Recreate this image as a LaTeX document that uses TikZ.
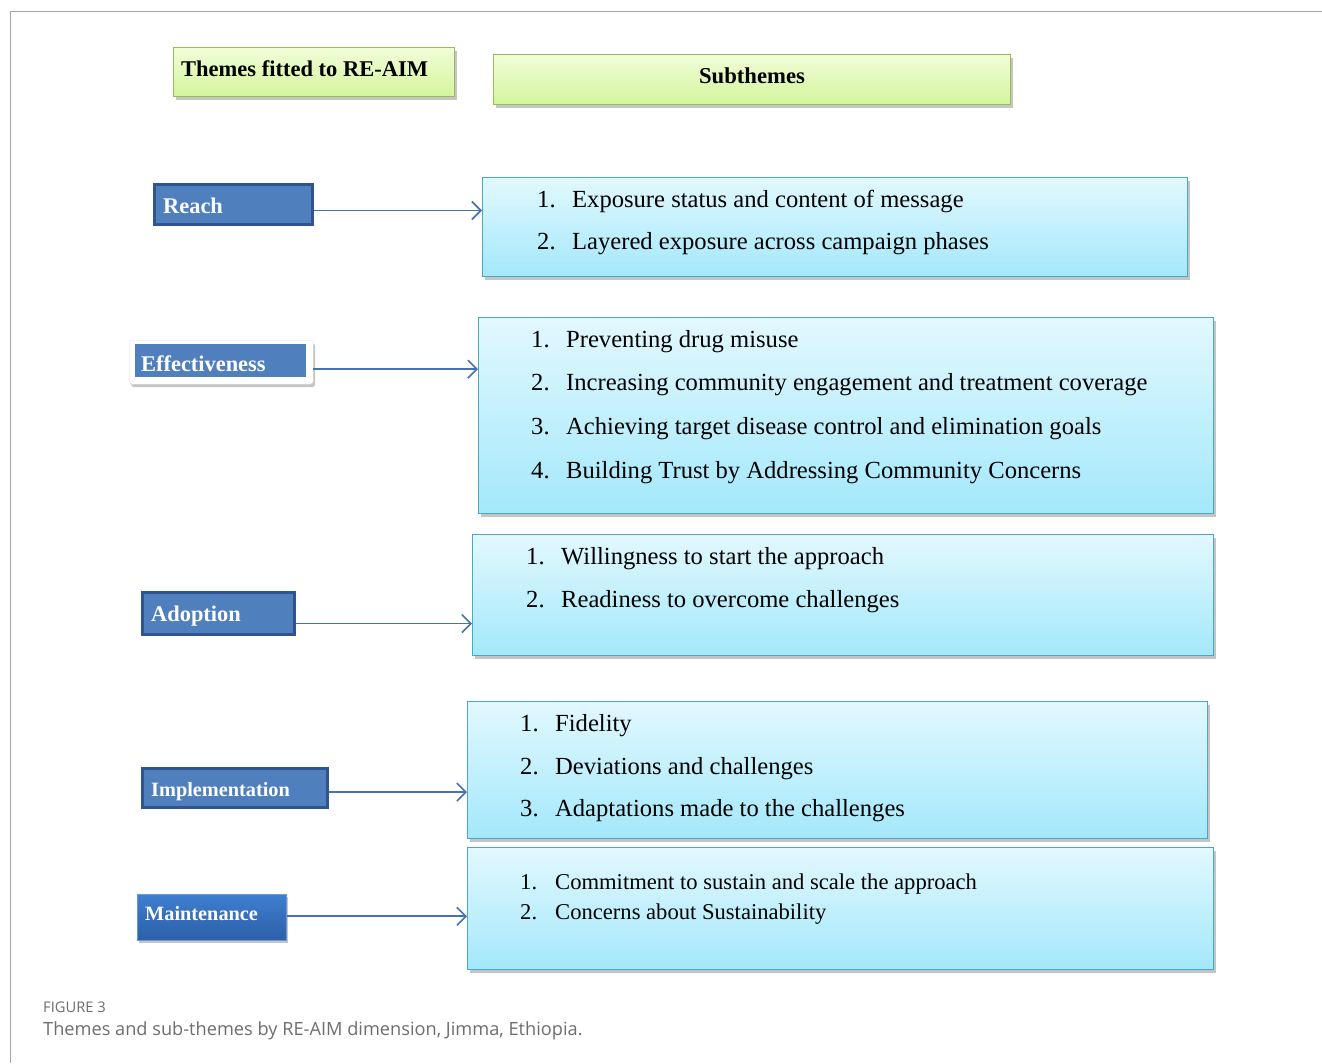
\documentclass[tikz,border=0pt]{standalone}
\usepackage{fontspec}
\setmainfont{Liberation Serif}
\newfontfamily\capfont{Open Sans}
\usetikzlibrary{shadows,calc,arrows.meta}
\definecolor{cyanTop}{HTML}{E2F8FE}
\definecolor{cyanBot}{HTML}{A3E8FB}
\definecolor{cyanLine}{HTML}{4AA8C4}
\definecolor{greenTop}{HTML}{F1FDD8}
\definecolor{greenBot}{HTML}{D3F59A}
\definecolor{greenLine}{HTML}{9BBB59}
\definecolor{blueFill}{HTML}{4F7FBD}
\definecolor{blueLine}{HTML}{2E5590}
\definecolor{mainTop}{HTML}{3E7FD0}
\definecolor{mainBot}{HTML}{2C5FA8}
\definecolor{arrowBlue}{HTML}{4472B4}
\definecolor{capGray}{HTML}{6E6E6E}
\tikzset{
  shad/.style={drop shadow={shadow xshift=2pt,shadow yshift=-3pt,opacity=0.45,fill=gray}},
  subbox/.style={shad,draw=cyanLine,line width=1.4pt,top color=cyanTop,bottom color=cyanBot,anchor=north west,inner sep=0pt},
  headbox/.style={shad,draw=greenLine,line width=1.4pt,top color=greenTop,bottom color=greenBot,anchor=north west,inner sep=0pt},
  themebox/.style={draw=blueLine,line width=3pt,fill=blueFill,anchor=north west,inner sep=0pt},
  themetxt/.style={anchor=base west,text=white,font=\fontsize{22.4}{26}\selectfont\bfseries,inner sep=0pt},
  item/.style={anchor=base west,inner sep=0pt,font=\fontsize{24.6}{28}\selectfont},
  itemsm/.style={anchor=base west,inner sep=0pt,font=\fontsize{22.6}{26}\selectfont},
  arr/.style={draw=arrowBlue,line width=1.8pt,-{Straight Barb[length=9pt,width=18pt,line width=1.6pt]}},
  frameline/.style={draw=gray!70,line width=1pt}
}
\newcommand{\num}[1]{\makebox[35pt][l]{#1}}
\begin{document}
\begin{tikzpicture}[x=1pt,y=-1pt]
\useasboundingbox[fill=white] (0,0) rectangle (1322,1063);
\draw[frameline] (1322,11) -- (10,11) -- (10,1063);
% header boxes
\node[headbox,minimum width=281,minimum height=49] (h1) at (173,47) {};
\node[anchor=base west,inner sep=0pt,font=\fontsize{22.5}{26}\selectfont\bfseries] (h1t) at (181,76) {Themes fitted to RE-AIM};
\node[headbox,minimum width=517,minimum height=50] (h2) at (493,54) {};
\node[anchor=base,inner sep=0pt,font=\fontsize{22.7}{26}\selectfont\bfseries] (h2t) at (752,83) {Subthemes};
% theme boxes
\node[themebox,minimum width=158,minimum height=40] (reach) at (153,183) {};
\node[themetxt] (reacht) at (163,213) {Reach};
\node[shad,draw=gray!25,fill=white,rounded corners=3pt,minimum width=184,minimum height=44,anchor=north west,inner sep=0pt] (eff) at (129,340) {};
\node[fill=blueFill,minimum width=171,minimum height=33,anchor=north west,inner sep=0pt] (effin) at (135,344) {};
\node[themetxt] (efft) at (141,371) {Effectiveness};
\node[themebox,minimum width=152,minimum height=42] (adop) at (141,591) {};
\node[themetxt] (adopt) at (151,621) {Adoption};
\node[themebox,minimum width=185,minimum height=39] (impl) at (141,767) {};
\node[themetxt,font=\fontsize{20.3}{24}\selectfont\bfseries] (implt) at (151,796) {Implementation};
\node[shad,draw=mainTop!80,line width=0.6pt,top color=mainTop,bottom color=mainBot,minimum width=149,minimum height=46,anchor=north west,inner sep=0pt] (main) at (137,894) {};
\node[themetxt,font=\fontsize{20.3}{24}\selectfont\bfseries] (maint) at (145,920) {Maintenance};
% subtheme boxes
\node[subbox,minimum width=705,minimum height=99] (s1) at (482,177) {};
\node[item] (s1a) at (537,207) {\num{1.}Exposure status and content of message};
\node[item] (s1b) at (537,249) {\num{2.}Layered exposure across campaign phases};
\node[subbox,minimum width=735,minimum height=196] (s2) at (478,317) {};
\node[item] (s2a) at (531,347) {\num{1.}Preventing drug misuse};
\node[item] (s2b) at (531,390) {\num{2.}Increasing community engagement and treatment coverage};
\node[item] (s2c) at (531,434) {\num{3.}Achieving target disease control and elimination goals};
\node[item] (s2d) at (531,478) {\num{4.}Building Trust by Addressing Community Concerns};
\node[subbox,minimum width=741,minimum height=121] (s3) at (472,534) {};
\node[item] (s3a) at (526,564) {\num{1.}Willingness to start the approach};
\node[item] (s3b) at (526,607) {\num{2.}Readiness to overcome challenges};
\node[subbox,minimum width=740,minimum height=137] (s4) at (467,701) {};
\node[item] (s4a) at (520,731) {\num{1.}Fidelity};
\node[item] (s4b) at (520,774) {\num{2.}Deviations and challenges};
\node[item] (s4c) at (520,816) {\num{3.}Adaptations made to the challenges};
\node[subbox,minimum width=746,minimum height=122] (s5) at (467,847) {};
\node[itemsm] (s5a) at (520,889) {\num{1.}Commitment to sustain and scale the approach};
\node[itemsm] (s5b) at (520,919) {\num{2.}Concerns about Sustainability};
% arrows
\coordinate (ra) at ($(reach.east)+(0,6)$);
\draw[arr] (ra) -- (ra -| s1.west);
\coordinate (ea) at ($(eff.east)+(0,7)$);
\draw[arr] (ea) -- (ea -| s2.west);
\coordinate (aa) at ($(adop.east)+(0,10)$);
\draw[arr] (aa) -- (aa -| s3.west);
\coordinate (ia) at ($(impl.east)+(0,4)$);
\draw[arr] (ia) -- (ia -| s4.west);
\coordinate (ma) at ($(main.east)+(0,-1)$);
\draw[arr] (ma) -- (ma -| s5.west);
% caption
\node[anchor=base west,inner sep=0pt,text=capGray,font=\capfont\fontsize{14.7}{17}\selectfont] (fig) at (43,1012) {FIGURE 3};
\node[anchor=base west,inner sep=0pt,text=capGray,font=\capfont\fontsize{18.2}{21}\selectfont] (cap) at (43,1035) {Themes and sub-themes by RE-AIM dimension, Jimma, Ethiopia.};
\end{tikzpicture}
\end{document}
